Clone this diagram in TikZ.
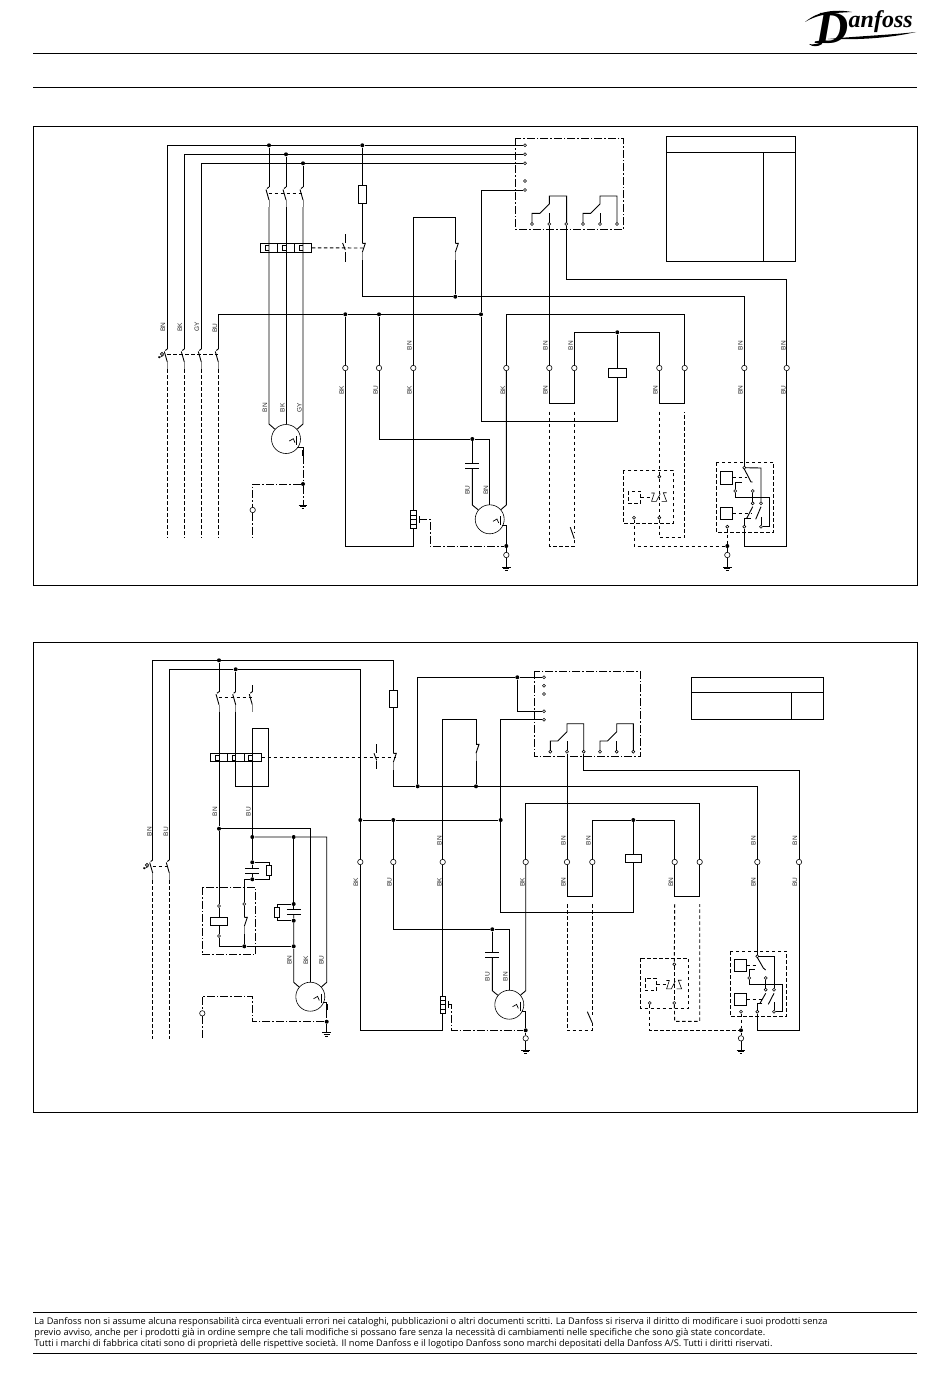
\documentclass[tikz,border=0pt]{standalone}
\usepackage{fontspec}
\newfontfamily\labfont{Liberation Sans}
\newfontfamily\footfont{Open Sans}
\newfontfamily\logofont{Liberation Serif}
\newcommand{\nocontact}[3]{%
    \coordinate (#1t) at (#2,#3);
    \coordinate (#1b) at (#2,#3+20);
    \draw (#2,#3) -- (#2-2,#3+1.5);
    \draw (#2-3,#3+2.5) -- (#2,#3+13);
    \draw[gray,line width=1pt] (#2,#3+13) -- (#2,#3+20);
}
\newcommand{\nccontact}[3]{%
    \coordinate (#1t) at (#2,#3);
    \coordinate (#1b) at (#2,#3+17);
    \draw (#2,#3) -- (#2+3,#3) -- (#2,#3+9);
    \draw[gray,line width=1pt] (#2,#3+9) -- (#2,#3+17);
}
\newcommand{\earth}[1]{%
    \draw (#1)+(-4.3,0) -- +(4.3,0);
    \draw (#1)+(-3,1.8) -- +(3,1.8);
    \draw (#1)+(-1.4,3.6) -- +(1.4,3.6);
}
\newcommand{\handswitch}[4]{%
    \draw (#1,#2) -- (#1,#2+9);
    \draw (#1-2.7,#2+9) -- (#1,#2+16);
    \draw (#1,#3) -- (#1,#4);
}
\newcommand{\protector}[2]{%
    \draw[line width=.7pt] (#1+3.3,#2+2) -- (#1+7.3,#2-.3) -- (#1+9,#2+3.7);
    \draw[line width=.7pt] (#1+10.7,#2-3) -- (#1+10.7,#2+6);
}
\newcommand{\changeover}[3]{%
    \draw (#1-#3,#2) -- (#1-#3,#2-10.7) -- (#1-9.3,#2-10.7) -- (#1,#2-20) -- (#1,#2-28) -- (#1+#3,#2-28) -- (#1+#3,#2);
    \draw (#1,#2-10.7) -- (#1,#2);
}
\newcommand{\klixon}[2]{%
    \draw[line width=.6pt] (#1-8,#2-4) -- (#1-5,#2-4) -- (#1-7.7,#2+4.3) -- (#1-3,#2+4.3) -- (#1+1,#2-3.3);
    \draw[line width=.6pt] (#1+7.3,#2-4.3) -- (#1+4,#2-4.3) -- (#1+7.3,#2+4.3) -- (#1+2.3,#2+4.3);
}
\newcommand{\handle}[2]{%
    \draw[line width=.6pt] (#1,#2) circle (1.6);
    \draw[line width=.6pt] (#1+1.5,#2+1.5) -- (#1-2,#2+3.2);
    \fill (#1-2.8,#2+3.2) circle (1.2);
}
\begin{document}
\begin{tikzpicture}[x=1pt,y=-1pt,line width=.9pt]
    \tikzstyle{term}=[circle,draw,fill=white,minimum width=5.4pt,inner sep=0pt,line width=.6pt]
    \tikzstyle{pinn}=[circle,draw,fill=white,minimum width=3pt,inner sep=0pt,line width=.6pt]
    \tikzstyle{junc}=[circle,fill=black,minimum width=4pt,inner sep=0pt]
    \tikzstyle{lab}=[rotate=90,inner sep=0pt,font=\labfont\fontsize{6.5}{6.5}\selectfont,text=black!85]
    \tikzstyle{frame}=[draw,inner sep=0pt,line width=.8pt]
    \tikzstyle{motor}=[circle,draw,inner sep=0pt,minimum width=29pt,line width=.6pt]
    \tikzstyle{capa}=[inner sep=0pt,minimum width=13pt,minimum height=4pt]
    \tikzstyle{ctl}=[dash pattern=on 3.5pt off 2.5pt]
    \tikzstyle{ctlb}=[dash pattern=on 8pt off 2pt on 1.5pt off 2pt]
    \tikzstyle{foot}=[anchor=west,inner sep=0pt,font=\footfont\fontsize{9.22}{9.22}\selectfont]

    \useasboundingbox (0,0) rectangle (950,1378);

    \coordinate (r1a) at (33,53);
    \coordinate (r1b) at (917,53);
    \coordinate (r2a) at (33,87);
    \coordinate (r2b) at (917,87);
    \coordinate (r3a) at (33,1312);
    \coordinate (r3b) at (917,1312);
    \coordinate (r4a) at (33,1353);
    \coordinate (r4b) at (917,1353);
    \draw (r1a) -- (r1b);
    \draw (r2a) -- (r2b);
    \draw (r3a) -- (r3b);
    \draw (r4a) -- (r4b);

    \node[anchor=base west,inner sep=0pt] (logo) at (815,44) {\logofont\bfseries\itshape\fontsize{46}{46}\selectfont D\raisebox{16pt}{\fontsize{24}{24}\selectfont anfoss}};
    \fill (805,22) .. controls (818,11) and (835,9) .. (852,12) .. controls (835,13) and (820,13) .. (805,22);
    \fill (828,39) .. controls (860,36) and (890,35) .. (916,32) .. controls (890,38) and (860,40) .. (828,39);
    \fill (822,44) .. controls (818,47) and (812,47) .. (809,44) .. controls (813,45) and (817,44) .. (822,42) -- cycle;

    \node[foot] (foot1) at (34,1322) {La Danfoss non si assume alcuna responsabilità circa eventuali errori nei cataloghi, pubblicazioni o altri documenti scritti. La Danfoss si riserva il diritto di modificare i suoi prodotti senza};
    \node[foot] (foot2) at (34,1333) {previo avviso, anche per i prodotti già in ordine sempre che tali modifiche si possano fare senza la necessità di cambiamenti nelle specifiche che sono già state concordate.};
    \node[foot] (foot3) at (34,1344) {Tutti i marchi di fabbrica citati sono di proprietà delle rispettive società. Il nome Danfoss e il logotipo Danfoss sono marchi depositati della Danfoss A/S. Tutti i diritti riservati.};

    \node[frame,minimum width=884pt,minimum height=459pt] (pframe) at (475,355.5) {};
    \node[frame,minimum width=884pt,minimum height=469.4pt] (qframe) at (475,877.4) {};

    \node[frame,minimum width=129pt,minimum height=16pt] (ptab1) at (731.2,144.3) {};
    \node[frame,minimum width=96.6pt,minimum height=109pt] (ptab2) at (715,206.8) {};
    \node[frame,minimum width=32.4pt,minimum height=109pt] (ptab3) at (779.5,206.8) {};
    \node[frame,minimum width=132pt,minimum height=15pt] (qtab1) at (757.3,684.8) {};
    \node[frame,minimum width=100pt,minimum height=27pt] (qtab2) at (741.3,705.8) {};
    \node[frame,minimum width=32pt,minimum height=27pt] (qtab3) at (807.3,705.8) {};

    \draw[ctlb] (515.7,138.3) rectangle (623.3,229.3);
    \draw[ctlb] (534.3,671.3) rectangle (640.7,756.7);
    \draw[ctl] (623.3,470.3) rectangle (673.3,523.3);
    \draw[ctl] (628.3,491.3) rectangle (640.7,503.3);
    \draw[ctl] (716.3,462.3) rectangle (773.7,532.3);
    \draw[ctl] (640.7,958.3) rectangle (688.7,1008.3);
    \draw[ctl] (645.3,978.3) rectangle (656.7,990.7);
    \draw[ctl] (730.3,951.3) rectangle (786.7,1016.3);
    \draw[ctlb] (202.3,887.3) rectangle (255.7,954.7);

    \changeover{549.3}{224}{17.3}
    \changeover{600}{224}{17}
    \changeover{567}{751.7}{16.7}
    \changeover{616.7}{751.7}{16.7}

    \foreach \n/\y in {pp1/145.3,pp2/154.3,pp3/163.3,pp4/181,pp5/190}
        \node[pinn] (\n) at (525,\y) {};
    \foreach \n/\x in {pb1/532,pb2/549.3,pb3/566.3,pb4/583,pb5/600,pb6/617}
        \node[pinn] (\n) at (\x,224) {};
    \foreach \n/\y in {qp1/677.3,qp2/685.7,qp3/694,qp4/711.3,qp5/719.7}
        \node[pinn] (\n) at (544,\y) {};
    \foreach \n/\x in {qb1/550.3,qb2/567,qb3/583.7,qb4/600,qb5/616.7,qb6/633.3}
        \node[pinn] (\n) at (\x,751.7) {};
    \foreach \n/\x/\y in {pt1/659.3/476.7,pt2/659.3/517.7,pt3/634/517.7,pr1/744.3/467.7,pr2/752.7/491,pr3/735.3/491,pr4/761/503.3,pr5/752.7/503.3,pr6/744.3/526.7,pr7/761/526.7,pr8/727.3/526.7}
        \node[pinn] (\n) at (\x,\y) {};
    \foreach \n/\x/\y in {qq1/219/906,qq2/219/936,qq3/244.3/904,qt1/674.3/964.3,qt2/674.3/1003,qt3/649.7/1003,qr1/757.3/956.3,qr2/765.7/978,qr3/749.3/978,qr4/774/989.7,qr5/765.7/989.7,qr6/757.3/1011.7,qr7/774/1011.7,qr8/741/1011.7}
        \node[pinn] (\n) at (\x,\y) {};

    \foreach \n/\x in {pk1/345.3,pk2/379,pk3/413.3,pk4/506.3,pk5/549.3,pk6/574.3,pk7/659.3,pk8/684.7,pk9/744.3,pk10/786.7}
        \node[term] (\n) at (\x,368) {};
    \foreach \n/\x in {qk1/360.3,qk2/393.3,qk3/442.7,qk4/525.7,qk5/567,qk6/592.3,qk7/674.7,qk8/699.7,qk9/757.3,qk10/799}
        \node[term] (\n) at (\x,862) {};
    \node[term] (pk0) at (252.7,510) {};
    \node[term] (pg1) at (506.3,555) {};
    \node[term] (pg2) at (727.3,555) {};
    \node[term] (qk0) at (202.3,1013.3) {};
    \node[term] (qg1) at (525.7,1038.3) {};
    \node[term] (qg2) at (741,1038.3) {};

    \foreach \n/\x/\y in {pj1/269/145.3,pj2/286/154.3,pj3/303/163.3,pj4/362.3/145.3,pj5/345.3/314.3,pj6/379/314.3,pj7/481/314.3,pj8/455.3/296.7,pj9/617.3/332.3,pj10/472.3/439,pj11/303/484,pj12/506.3/546,pj13/727.3/546}
        \node[junc] (\n) at (\x,\y) {};
    \foreach \n/\x/\y in {qj1/219/660.3,qj2/235.7/669.3,qj3/360.3/820,qj4/393.3/820,qj5/500.7/820,qj6/417.7/786.3,qj7/476/786.3,qj8/517.3/677.3,qj9/633.3/820,qj10/492.3/929.3,qj11/219/828.7,qj12/252.3/837,qj13/293.7/837,qj14/252.3/862.3,qj15/252.3/879.3,qj16/293.7/904,qj17/293.7/920.7,qj18/293.7/946.3,qj19/244.3/946.3,qj20/326.7/1021.7,qj21/525.7/1030.3,qj22/741/1030.3}
        \node[junc] (\n) at (\x,\y) {};

    \node[motor] (pm1) at (286,439) {};
    \node[motor] (pm2) at (489.7,519.3) {};
    \node[motor] (qm1) at (310.3,996.7) {};
    \node[motor] (qm2) at (509.3,1004.7) {};
    \protector{286}{439}
    \protector{489.7}{519.3}
    \protector{310.3}{996.7}
    \protector{509.3}{1004.7}

    \node[draw,minimum width=8.4pt,minimum height=18pt,inner sep=0pt] (pf1) at (362.3,194.3) {};
    \node[draw,minimum width=8.4pt,minimum height=17pt,inner sep=0pt] (qf1) at (393.3,699.2) {};
    \node[draw,minimum width=17.7pt,minimum height=9.4pt,inner sep=0pt] (pcoil) at (617.3,373) {};
    \node[draw,minimum width=16.4pt,minimum height=8.5pt,inner sep=0pt] (qcoil) at (633.3,858.4) {};
    \node[draw,minimum width=17.4pt,minimum height=8.4pt,inner sep=0pt] (qcoil2) at (219,921.5) {};
    \node[draw,minimum width=5.4pt,minimum height=18pt,inner sep=0pt] (phe) at (413.3,519.3) {};
    \node[draw,minimum width=5.4pt,minimum height=17.3pt,inner sep=0pt] (qhe) at (442.7,1004.7) {};
    \node[draw,minimum width=5.4pt,minimum height=10.7pt,inner sep=0pt] (qres1) at (269,870.3) {};
    \node[draw,minimum width=5.4pt,minimum height=10.7pt,inner sep=0pt] (qres2) at (277,912.3) {};
    \foreach \d in {-4.5,0,4.5} {
        \draw[line width=.6pt] (410.6,519.3+\d) -- (416,519.3+\d);
        \draw[line width=.6pt] (440,1004.7+\d) -- (445.4,1004.7+\d);
    }

    \node[capa] (pcp1) at (472.3,466.3) {};
    \node[capa] (qcp1) at (252.3,871) {};
    \node[capa] (qcp2) at (293.7,912) {};
    \node[capa] (qcp3) at (492.3,954.8) {};
    \foreach \n in {pcp1,qcp1,qcp2,qcp3} {
        \draw (\n.north west) -- (\n.north east);
        \draw (\n.south west) -- (\n.south east);
    }

    \foreach \n/\x in {ptr1/268.8,ptr2/285.8,ptr3/303}
        \node[draw,minimum width=17pt,minimum height=9pt,inner sep=0pt] (\n) at (\x,247.8) {};
    \foreach \n/\x in {qtr1/218.8,qtr2/236,qtr3/252.7}
        \node[draw,minimum width=17pt,minimum height=7.4pt,inner sep=0pt] (\n) at (\x,757.3) {};
    \foreach \x in {269,286,303}
        \draw (\x,245) -- (\x-3.7,245) -- (\x-3.7,250.7) -- (\x,250.7);
    \foreach \x in {219,235.7,252.3}
        \draw (\x,755) -- (\x-3.7,755) -- (\x-3.7,760) -- (\x,760);

    \nocontact{pc1}{269}{187}
    \nocontact{pc2}{286}{187}
    \nocontact{pc3}{303}{187}
    \nocontact{pc4}{167.3}{349}
    \nocontact{pc5}{184.3}{349}
    \nocontact{pc6}{201.3}{349}
    \nocontact{pc7}{218.3}{349}
    \nccontact{pn1}{362.3}{243.3}
    \nccontact{pn2}{455.3}{243.3}
    \nocontact{qc1}{152.7}{860}
    \nocontact{qc2}{169.3}{860}
    \nocontact{qc3}{219}{691.7}
    \nocontact{qc4}{235.7}{691.7}
    \nocontact{qc5}{252.3}{691.7}
    \nccontact{qn1}{393.3}{753.3}
    \nccontact{qn2}{476}{744.3}
    \nccontact{qn3}{244.3}{917.3}
    \handswitch{345.3}{234}{252}{262}
    \handswitch{376.7}{744.3}{760.5}{769.3}
    \handle{162}{354}
    \handle{147}{865}
    \klixon{659.3}{497}
    \klixon{674.3}{984.5}

    \coordinate (pa1) at (617.3,421);
    \coordinate (pa2) at (574.3,403.3);
    \coordinate (pa3) at (659.3,403.3);
    \coordinate (pa4) at (684.7,314.3);
    \coordinate (pa5) at (506.3,505);
    \coordinate (pa6) at (413.3,546);
    \coordinate (pa7) at (413.3,217.3);
    \coordinate (pa8) at (489.7,439);
    \coordinate (pa9) at (472.3,505);
    \coordinate (pa10) at (786.7,279.3);
    \coordinate (pa11) at (744.3,546);
    \coordinate (pa12) at (502,525.3);
    \coordinate (pa13) at (269,424);
    \coordinate (pa14) at (303,424);
    \coordinate (pa15) at (297,447.7);
    \coordinate (pa16) at (303,456);
    \coordinate (pe1) at (506.3,567);
    \coordinate (pe2) at (727.3,567);
    \coordinate (pe3) at (303,505);

    \draw (pc4t) |- (pj1) -- (pj4) -- (pp1);
    \draw (pc5t) |- (pj2) -- (pp2);
    \draw (pc6t) |- (pj3) -- (pp3);
    \draw (pc7t) |- (pj5) -- (pj6) -- (pj7);
    \draw (pj1) -- (pc1t);
    \draw (pj2) -- (pc2t);
    \draw (pj3) -- (pc3t);
    \draw (pc1b) -- (pa13) -- (pm1);
    \draw (pc2b) -- (pm1);
    \draw (pc3b) -- (pa14) -- (pm1);
    \draw (pa15) -| (pa16);
    \draw[line width=1.8pt] (303,450) -- (303,456);
    \draw[ctlb] (pa16) -- (pj11);
    \draw[ctlb] (pj11) -- (pe3);
    \earth{pe3}
    \coordinate (pd9) at (252.7,537);
    \draw[ctlb] (pj11) -| (pk0);
    \draw[ctlb] (pk0) -- (pd9);
    \draw (pj4) -- (pf1);
    \draw (pf1) -- (pn1t);
    \draw (pn1b) |- (pj8) -| (pk9);
    \draw (pp5) -| (pj7);
    \draw (pj7) |- (pa1) -- (pcoil);
    \draw (pcoil) -- (pj9);
    \draw (pj9) -| (pk6);
    \draw (pj9) -| (pk7);
    \draw (pk6) -- (pa2) -| (pk5);
    \draw (pk5) -- (pb2);
    \draw (pk7) -- (pa3) -| (pk8);
    \draw (pk8) -- (pa4) -| (pk4);
    \draw (pk4) -- (pa5) -- (pm2);
    \draw (pj5) -- (pk1);
    \draw (pk1) |- (pa6) -- (phe);
    \draw (phe) -- (pk3);
    \draw (pk3) -- (pa7) -| (pn2t);
    \draw (pn2b) -- (pj8);
    \draw (pj6) -- (pk2);
    \draw (pk2) |- (pj10) -- (pa8) -- (pm2);
    \draw (pj10) -- (pcp1);
    \draw (pcp1) -- (pa9) -- (pm2);
    \draw (pb3) |- (pa10) -- (pk10);
    \draw (pk10) |- (pa11) -- (pr6);
    \draw (pa12) -| (pj12);
    \draw (pj12) -- (pg1);
    \draw (pg1) -- (pe1);
    \earth{pe1}
    \coordinate (pth) at (419.3,519.3);
    \coordinate (pa17) at (430,546);
    \draw[line width=.6pt] (419.3,516) -- (419.3,522.6);
    \draw[ctlb] (pth) -| (pa17) -- (pj12);

    \coordinate (pd0) at (365,248);
    \draw[ctl] (ptr3) -- (pd0);
    \draw[ctl] (268.5,193) -- (303,193);

    \coordinate (pd1) at (549.3,411.7);
    \coordinate (pd2) at (549.3,546);
    \coordinate (pd3) at (574.3,546);
    \coordinate (pd4) at (574.3,411.7);
    \coordinate (pd5) at (574.3,532);
    \coordinate (pd6) at (659.3,411.7);
    \coordinate (pd7) at (659.3,537.3);
    \coordinate (pd8) at (684.7,411.7);
    \coordinate (pd10) at (574.3,539);
    \draw[ctl] (pd1) -- (pd2) -- (pd3) -- (pd10);
    \draw[ctl] (pd4) -- (pd5);
    \draw (574.3,538.7) -- (570.3,527.3);
    \draw[ctl] (pd6) -- (pt1);
    \draw[ctl] (pt1) -- (pt2);
    \draw[ctl] (pt2) -- (pd7) -| (pd8);
    \draw[ctl] (pt3) |- (pj13);
    \draw[ctl] (pr8) -- (pj13);
    \draw[ctl] (640.7,497) -- (651,497);
    \draw (pj13) -- (pg2);
    \draw (pg2) -- (pe2);
    \earth{pe2}

    \draw (720.3,471.3) rectangle (732.7,484.3);
    \draw (720.3,507.3) rectangle (732.7,519.3);
    \draw[ctl] (732.7,477.7) -- (747,477.7);
    \draw[ctl] (732.7,513.3) -- (751.7,513.3);
    \draw (pk9) -- (pr1);
    \coordinate (pb6a) at (761,468);
    \draw (pr1) -- (pb6a) -- (pr4);
    \draw (744.3,469) -- (751,482) -- (752.7,482);
    \draw (pr2) -- (pr5);
    \coordinate (pb7a) at (735.3,482.3);
    \coordinate (pb7b) at (741.7,482.3);
    \draw (pr3) -- (pb7a) -- (pb7b);
    \coordinate (pb8a) at (735.3,497.3);
    \coordinate (pb8b) at (769.3,497.3);
    \coordinate (pb8c) at (769.3,526.7);
    \draw (pr3) -- (pb8a) -- (pb8b) -- (pb8c) -- (pr7);
    \draw (752.7,506.7) -- (746.7,518.3);
    \draw (750.5,518.3) -- (744.3,518.3) -- (pr6);
    \draw (761,506.7) -- (755.7,519.3);
    \draw (pr7) -- (761,516.7);

    \coordinate (qa1) at (476,719.3);
    \coordinate (qa2) at (442.7,1030.3);
    \coordinate (qa3) at (633.3,912.3);
    \coordinate (qa4) at (592.3,896.3);
    \coordinate (qa5) at (674.7,896.3);
    \coordinate (qa6) at (699.7,803.3);
    \coordinate (qa7) at (525.7,990.7);
    \coordinate (qa8) at (799,770.3);
    \coordinate (qa9) at (757.3,1030.3);
    \coordinate (qa10) at (521.7,1011.7);
    \coordinate (qa11) at (509.3,929.3);
    \coordinate (qa12) at (492.3,990.7);
    \coordinate (qa13) at (235.7,786.3);
    \coordinate (qa14) at (268.3,728.3);
    \coordinate (qa15) at (326.7,982.3);
    \coordinate (qa16) at (293.7,982.3);
    \coordinate (qa17) at (322.7,1002.3);
    \coordinate (qa18) at (326.7,1010);
    \coordinate (qa19) at (252.3,996.3);
    \coordinate (qa20) at (202.3,1039);
    \coordinate (qe1) at (525.7,1050);
    \coordinate (qe2) at (741,1050);
    \coordinate (qe3) at (326.7,1032.7);

    \draw (qc1t) |- (qj1) -| (qf1);
    \draw (qc2t) |- (qj2) -| (qj3);
    \draw (qj3) -- (qk1);
    \draw (qj3) -- (qj4) -- (qj5);
    \draw (qj4) -- (qk2);
    \draw (qk2) |- (qj10) -- (qa11) -- (qm2);
    \draw (qj10) -- (qcp3);
    \draw (qcp3) -- (qa12) -- (qm2);
    \draw (qf1) -- (qn1t);
    \draw (qn1b) |- (qj6) -- (qj7) -| (qk9);
    \draw (qj6) |- (qj8) -- (qp1);
    \draw (qj8) |- (qp4);
    \draw (qj7) -- (qn2b);
    \draw (qn2t) -- (qa1) -| (qk3);
    \draw (qk3) -- (qhe);
    \draw (qk1) |- (qa2) -- (qhe);
    \draw (qp5) -| (qj5);
    \draw (qj5) |- (qa3) -- (qcoil);
    \draw (qcoil) -- (qj9);
    \draw (qj9) -| (qk6);
    \draw (qj9) -| (qk7);
    \draw (qk6) -- (qa4) -| (qk5);
    \draw (qk5) -- (qb2);
    \draw (qk7) -- (qa5) -| (qk8);
    \draw (qk8) -- (qa6) -| (qk4);
    \draw (qk4) -- (qa7) -- (qm2);
    \draw (qb3) |- (qa8) -- (qk10);
    \draw (qk10) |- (qa9) -- (qr6);
    \draw (qa10) -| (qj21);
    \draw (qj21) -- (qg1);
    \draw (qg1) -- (qe1);
    \earth{qe1}
    \coordinate (qth) at (448.3,1004.7);
    \coordinate (qa21) at (451.7,1030.3);
    \draw[line width=.6pt] (448.3,1001.4) -- (448.3,1008);
    \draw[ctlb] (qth) -| (qa21) -- (qj21);

    \draw (qj1) -- (qc3t);
    \draw (qc3b) -- (qj11);
    \draw (qj11) -- (qq1);
    \draw (qj11) -| (qm1);
    \draw (qj2) -- (qc4t);
    \draw (qc4b) -- (qa13) -| (qa14) -| (qj12);
    \draw (qj12) -- (qj13) -| (qa15) -- (qm1);
    \draw (qj12) -- (qj14) -- (qcp1);
    \draw (qcp1) -- (qj15);
    \draw (qj13) -- (qj16) -- (qcp2);
    \draw (qcp2) -- (qj17) -- (qj18) -- (qa16) -- (qm1);
    \draw (qj14) -| (qres1);
    \draw (qres1) |- (qj15);
    \draw (qj15) -| (qq3);
    \draw (qq3) -- (qn3t);
    \draw (qn3b) -- (qj19);
    \draw (qq2) |- (qj19) -- (qj18);
    \draw (qq1) -- (qcoil2);
    \draw (qcoil2) -- (qq2);
    \draw (qj16) -| (qres2);
    \draw (qres2) |- (qj17);
    \draw (qa17) -| (qa18);
    \draw[line width=1.8pt] (326.7,1004) -- (326.7,1010);
    \draw[ctlb] (qa18) -- (qj20);
    \draw (qj20) -- (qe3);
    \earth{qe3}
    \draw[ctlb] (qj20) -| (qa19) -| (qk0);
    \draw[ctlb] (qk0) -- (qa20);

    \coordinate (qd0) at (396,757.3);
    \draw[ctl] (qtr3) -- (qd0);
    \draw[ctl] (218.5,697.3) -- (252,697.3);
    \coordinate (qd5) at (252.3,685);
    \draw (qd5) -- (qc5t);
    \foreach \n/\x in {qd1/152.7,qd3/169.3} {
        \coordinate (\n) at (\x,880);
        \draw[ctl] (\n) -- (\x,1039);
    }
    \draw[ctl] (152.7,866.7) -- (169.3,866.7);
    \draw[ctl] (167.3,354) -- (218.3,354);
    \foreach \n/\x in {pd11/167.3,pd12/184.3,pd13/201.3,pd14/218.3} {
        \coordinate (\n) at (\x,369);
        \draw[ctl] (\n) -- (\x,538);
    }

    \coordinate (qd6) at (567,904);
    \coordinate (qd7) at (567,1030.3);
    \coordinate (qd8) at (592.3,1030.3);
    \coordinate (qd9) at (592.3,904);
    \coordinate (qd10) at (592.3,1015);
    \coordinate (qd11) at (592.3,1023);
    \draw[ctl] (qd6) -- (qd7) -- (qd8) -- (qd11);
    \draw[ctl] (qd9) -- (qd10);
    \draw (592.3,1023) -- (587.3,1011.7);
    \coordinate (qd12) at (674.7,904);
    \coordinate (qd13) at (674.7,1021.3);
    \coordinate (qd14) at (699.7,904);
    \draw[ctl] (qd12) -- (qt1);
    \draw[ctl] (qt1) -- (qt2);
    \draw[ctl] (qt2) -- (qd13) -| (qd14);
    \draw[ctl] (qt3) |- (qj22);
    \draw[ctl] (qr8) -- (qj22);
    \draw[ctl] (656.7,984.5) -- (666,984.5);
    \draw (qj22) -- (qg2);
    \draw (qg2) -- (qe2);
    \earth{qe2}

    \draw (734.3,959.3) rectangle (746.7,971.3);
    \draw (734.3,993.7) rectangle (746.7,1005.7);
    \draw[ctl] (746.7,965) -- (758,965);
    \draw[ctl] (746.7,999.7) -- (763,999.7);
    \draw (qk9) -- (qr1);
    \coordinate (qb7a) at (774,956.3);
    \draw (qr1) -- (qb7a) -- (qr4);
    \draw (757.3,957.5) -- (763.3,968) -- (765.7,970);
    \draw (qr2) -- (qr5);
    \coordinate (qb8a) at (749.3,969.3);
    \coordinate (qb8b) at (755,969.3);
    \draw (qr3) -- (qb8a) -- (qb8b);
    \coordinate (qb9a) at (749.3,984.3);
    \coordinate (qb9b) at (782,984.3);
    \coordinate (qb9c) at (782,1011.7);
    \draw (qr3) -- (qb9a) -- (qb9b) -- (qb9c) -- (qr7);
    \draw (765.7,993.3) -- (760,1003.3);
    \draw (762.3,1003.3) -- (757.3,1003.3) -- (qr6);
    \draw (774,993.3) -- (768.3,1004.3);
    \draw (qr7) -- (774,1001.7);

    \foreach \t/\x/\y [count=\i] in {BN/163/327,BK/180/327,GY/197/327,BU/215/328,BN/265/407.7,BK/282.3/407.7,GY/299.3/407.7,BK/341.7/390,BU/375.7/390,BK/409.3/390,BN/409.3/345.7,BN/545.3/345.7,BN/570.7/345.7,BN/740.3/345.7,BN/783.3/345.7,BK/503/390,BN/545.3/390,BN/655.3/390,BN/740.3/390,BU/783.3/390,BU/467.3/490,BN/486/490}
        \node[lab] (plab\i) at (\x,\y) {\t};
    \foreach \t/\x/\y [count=\i] in {BN/149.3/831.7,BU/166/831.7,BN/215/811.7,BU/248.3/811.7,BN/289.3/960,BK/306/960,BU/321.3/960,BK/356/882.3,BU/389.3/882.3,BN/439.3/840.7,BN/563.3/840.7,BN/588.3/840.7,BN/753.3/840.7,BN/795/840.7,BK/439.3/882.3,BK/522.3/882.3,BN/563.3/882.3,BN/671/882.3,BN/753.3/882.3,BU/795/882.3,BU/487.3/976.7,BN/505.3/976.7}
        \node[lab] (qlab\i) at (\x,\y) {\t};
\end{tikzpicture}
\end{document}
